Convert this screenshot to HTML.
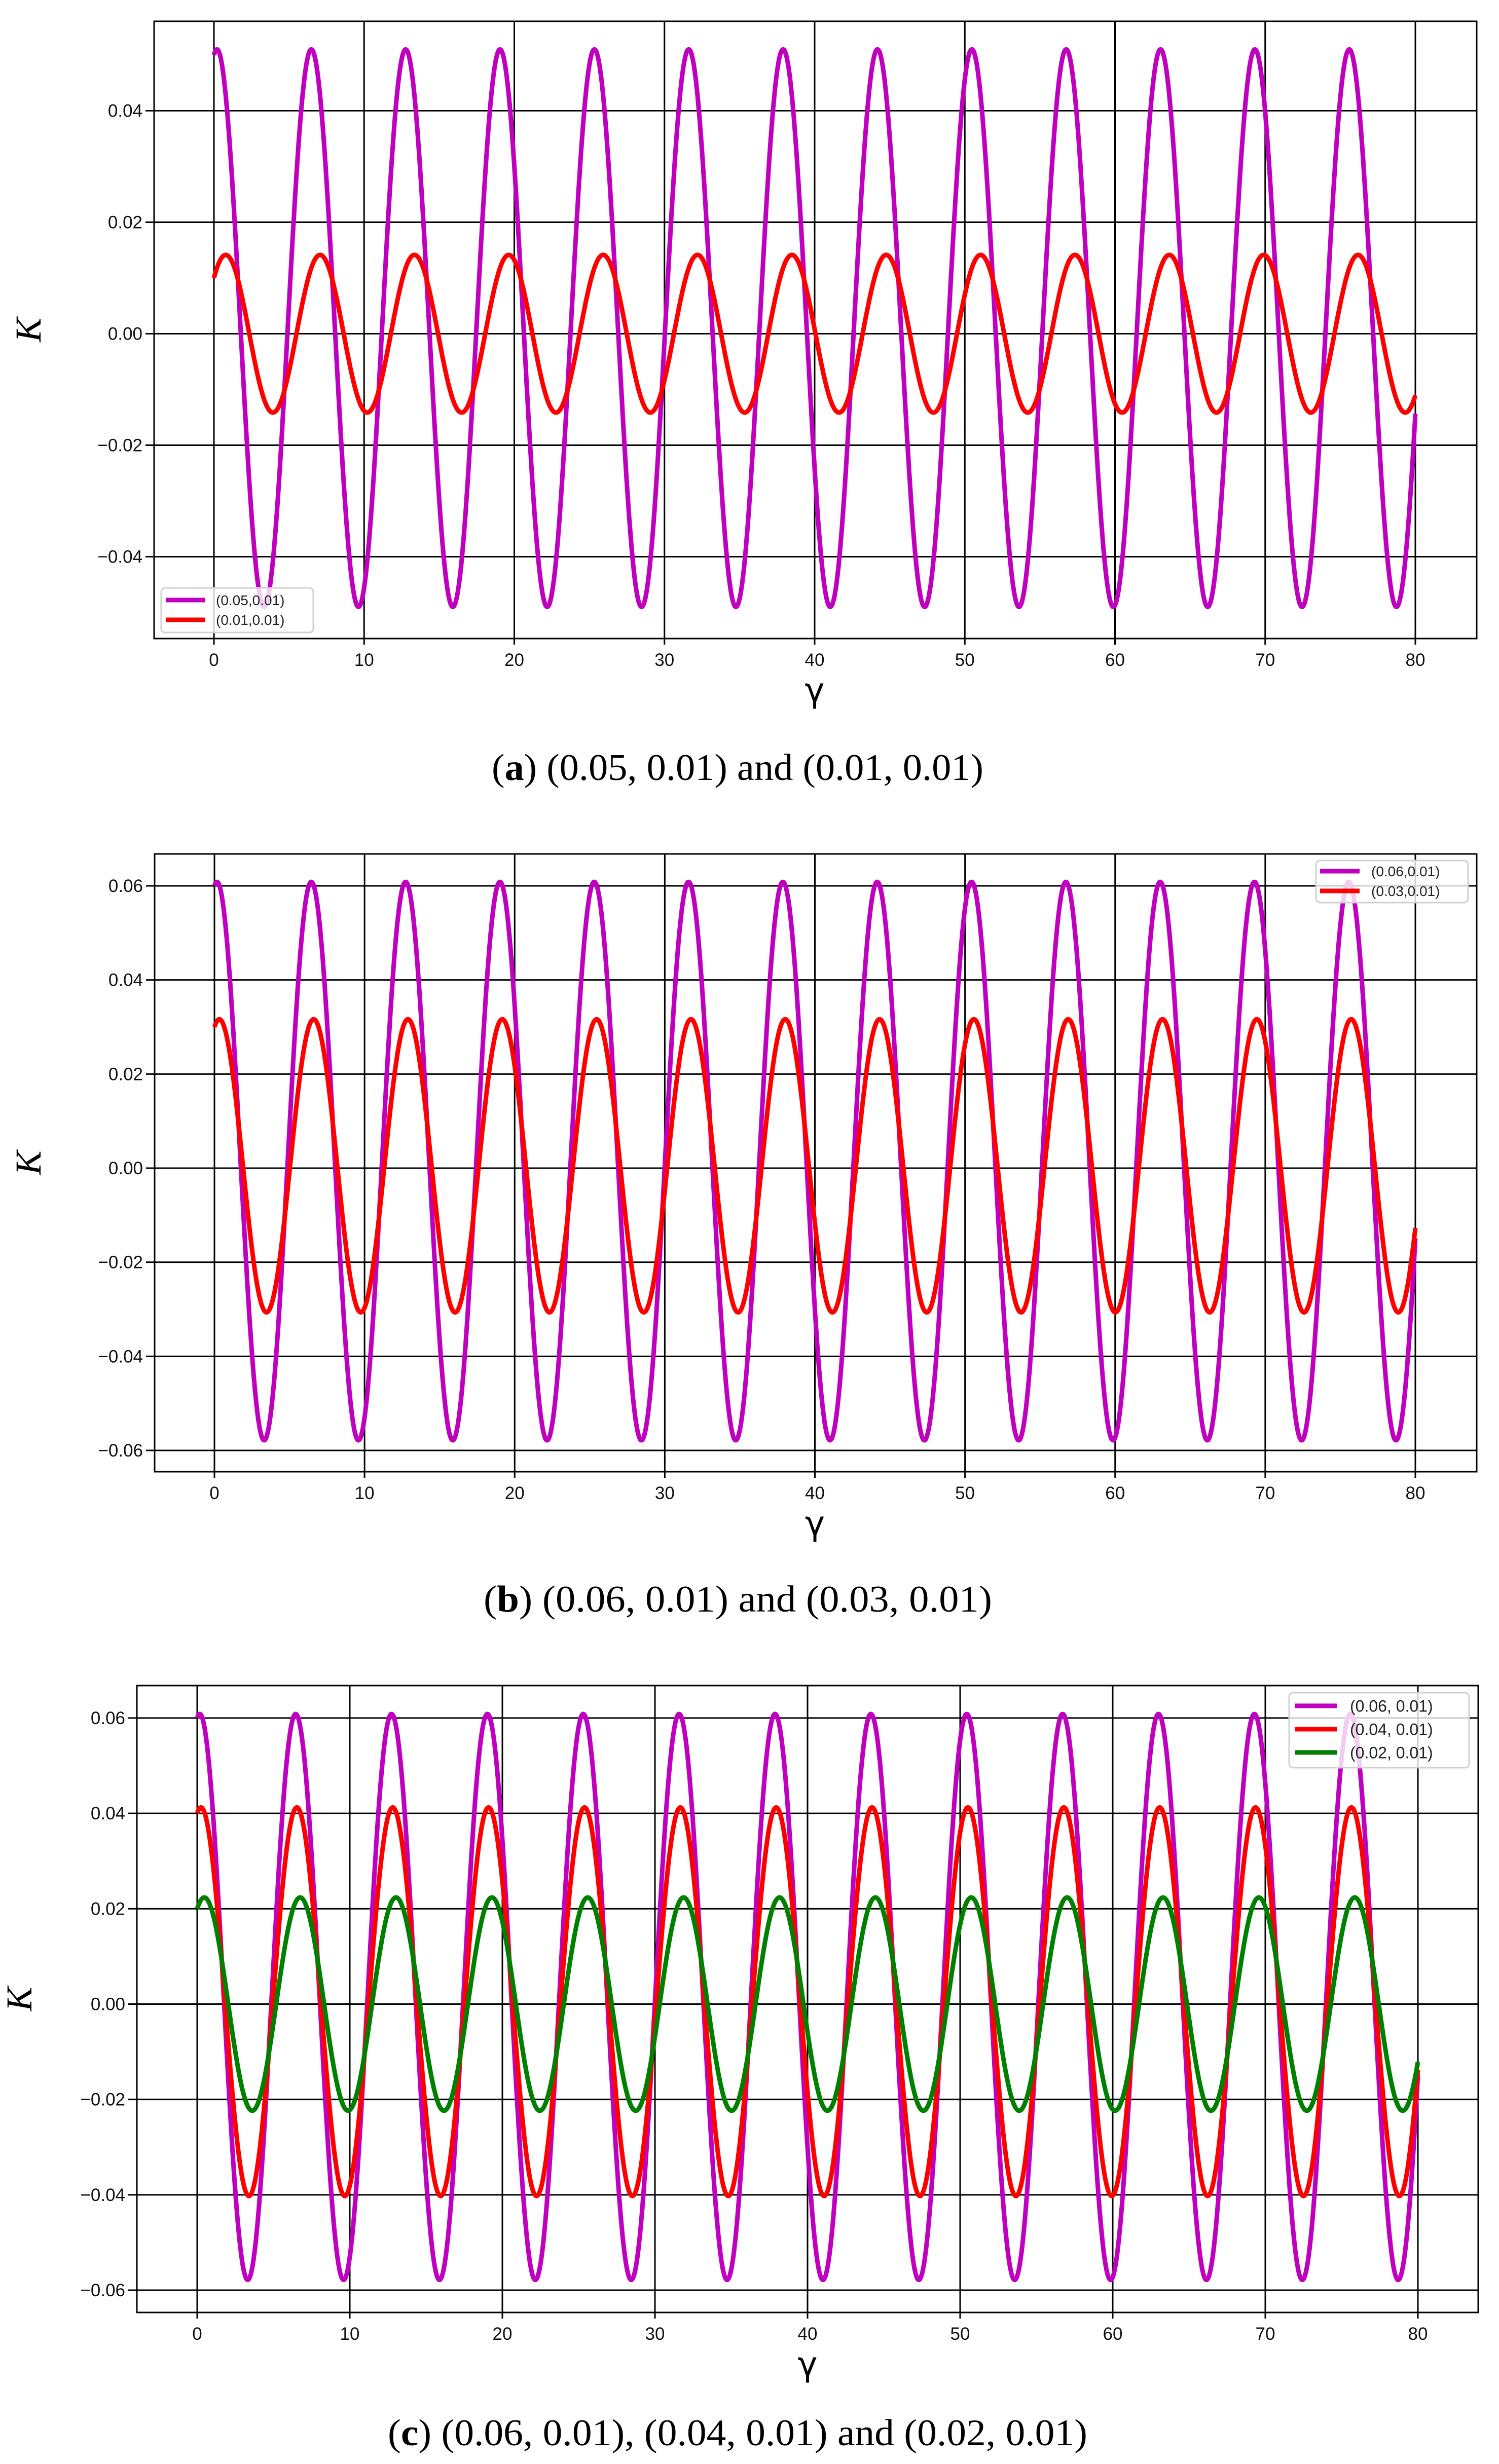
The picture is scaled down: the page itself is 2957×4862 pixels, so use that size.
<!DOCTYPE html>
<html><head><meta charset="utf-8">
<style>
html,body{margin:0;padding:0;background:#fff;}
svg{display:block;}
text{font-family:"Liberation Sans","DejaVu Sans",sans-serif;}
</style></head>
<body>
<svg id="fig" width="2957" height="4862" viewBox="0 0 2957 4862" xmlns="http://www.w3.org/2000/svg">
<rect width="2957" height="4862" fill="#fff"/>
</svg>
<script>
// ---- data ----
const xTicks = [0,10,20,30,40,50,60,70,80];
const yTicksA = [-0.04,-0.02,0.00,0.02,0.04];
const yTicksBC = [-0.06,-0.04,-0.02,0.00,0.02,0.04,0.06];
const gammaRange = [0,80];
// series parameters: [start value, sine coefficient, offset]
const seriesA1 = [0.05,0.01,0.001];
const seriesA2 = [0.01,0.01,0.0];
const seriesB1 = [0.06,0.01,0.0015];
const seriesB2 = [0.03,0.01,0.0005];
const seriesC1 = [0.06,0.01,0.0015];
const seriesC2 = [0.04,0.01,0.0005];
const seriesC3 = [0.02,0.01,0.0];
const labelsA = ["(0.05,0.01)","(0.01,0.01)"];
const labelsB = ["(0.06,0.01)","(0.03,0.01)"];
const labelsC = ["(0.06, 0.01)","(0.04, 0.01)","(0.02, 0.01)"];

const NS="http://www.w3.org/2000/svg";
const svg=document.getElementById('fig');
function mk(tag,attrs,parent){const e=document.createElementNS(NS,tag);for(const k in attrs)e.setAttribute(k,attrs[k]);(parent||svg).appendChild(e);return e;}
function fmt(v){const s=Math.abs(v).toFixed(2);return (v<-1e-9?"\u2212":"")+s;}

function panel(cfg){
  const g=mk('g',{});
  
  
  const X=v=>cfg.x0+(v-0)*(cfg.x80-cfg.x0)/80;
  const Y=v=>cfg.y0-v*cfg.ky;
  xTicks.forEach(t=>{
    const l=mk('line',{x1:X(t),x2:X(t),y1:cfg.top,y2:cfg.bottom+12,stroke:'#000','stroke-width':3},g);
    
    
    const tx=mk('text',{x:X(t),y:cfg.bottom+54,'font-size':35,'text-anchor':'middle',fill:'#111'},g);
    tx.textContent=t;
    
    
  });
  cfg.yTicks.forEach(t=>{
    const l=mk('line',{x1:cfg.left-17,x2:cfg.right,y1:Y(t),y2:Y(t),stroke:'#000','stroke-width':3},g);
    
    
    const tx=mk('text',{x:cfg.left-23,y:Y(t)+12,'font-size':35,'text-anchor':'end',fill:'#111'},g);
    tx.textContent=fmt(t);
    
    
  });
  cfg.series.forEach((p,i)=>{
    let d='';
    for(let k=0;k<=3200;k++){const gm=gammaRange[0]+(gammaRange[1]-gammaRange[0])*k/3200;const v=(p[0]-p[2])*Math.cos(gm)+p[1]*Math.sin(gm)+p[2];d+=(k?'L':'M')+X(gm).toFixed(1)+','+Y(v).toFixed(1);}
    const path=mk('path',{d:d,fill:'none',stroke:cfg.colors[i],'stroke-width':9,'stroke-linejoin':'round'},g);
    
    
  });
  const fr=mk('rect',{x:cfg.left,y:cfg.top,width:cfg.right-cfg.left,height:cfg.bottom-cfg.top,fill:'none',stroke:'#000','stroke-width':3},g);
  
  
  const L=cfg.legend;
  const lg=mk('g',{},g);
  
  
  mk('rect',{x:L.x,y:L.y,width:L.w,height:L.h,rx:8,fill:'rgba(255,255,255,0.8)',stroke:'#d0d0d0','stroke-width':3},lg);
  cfg.labels.forEach((s,i)=>{
    const ry=L.y+L.r0+i*L.dr;
    const ln=mk('line',{x1:L.lx1,x2:L.lx2,y1:ry,y2:ry,stroke:cfg.colors[i],'stroke-width':9},lg);
    
    
    const t=mk('text',{x:L.tx,y:ry+L.fs*0.36,'font-size':L.fs,fill:'#222'},lg);
    t.textContent=s;
    
    
  });
  const cy=(cfg.top+cfg.bottom)/2;
  const yl=mk('text',{x:0,y:0,'font-size':72,'font-style':'italic','text-anchor':'middle',transform:`translate(${cfg.ylx},${cy}) rotate(-90)`,style:'font-family:"Liberation Serif",serif'},g);
  yl.textContent='K';
  
  
  const xl=mk('text',{x:(X(0)+X(80))/2,y:cfg.bottom+125,'font-size':66,'text-anchor':'middle',style:'font-family:"DejaVu Sans",sans-serif'},g);
  xl.textContent='\u03b3';
  
  
  const cap=mk('text',{x:cfg.cap.x,y:cfg.cap.y,'font-size':74,textLength:cfg.cap.w,lengthAdjust:'spacingAndGlyphs',style:'font-family:"Liberation Serif",serif'},g);
  
  
  const b=mk('tspan',{'font-weight':'bold'},cap);
  cap.insertBefore(document.createTextNode('('),b);
  b.textContent=cfg.cap.tag;
  cap.appendChild(document.createTextNode(')'+cfg.cap.rest));
}

panel({name:'panel-a',left:304,right:2913,top:42,bottom:1260,x0:422,x80:2792,y0:658.5,ky:11000,yTicks:yTicksA,
  series:[seriesA1,seriesA2],colors:['#bf00bf','#ff0000'],labels:labelsA,
  legend:{x:318,y:1160,w:300,h:88,r0:24,dr:39,lx1:327,lx2:405,tx:426,fs:28},ylx:80,
  cap:{x:970,y:1539,w:970,tag:'a',rest:' (0.05, 0.01) and (0.01, 0.01)'}});
panel({name:'panel-b',left:305,right:2913,top:1685,bottom:2904,x0:423,x80:2792,y0:2305,ky:9283,yTicks:yTicksBC,
  series:[seriesB1,seriesB2],colors:['#bf00bf','#ff0000'],labels:labelsB,
  legend:{x:2596,y:1698,w:300,h:83,r0:21,dr:39,lx1:2604,lx2:2682,tx:2705,fs:28},ylx:80,
  cap:{x:954,y:3180,w:1003,tag:'b',rest:'  (0.06, 0.01) and (0.03, 0.01)'}});
panel({name:'panel-c',left:270,right:2916,top:3326,bottom:4563,x0:389,x80:2797,y0:3954.5,ky:9408,yTicks:yTicksBC,
  series:[seriesC1,seriesC2,seriesC3],colors:['#bf00bf','#ff0000','#008000'],labels:labelsC,
  legend:{x:2543,y:3340,w:355,h:148,r0:26,dr:46,lx1:2554,lx2:2637,tx:2663,fs:32},ylx:62,
  cap:{x:765,y:4825,w:1380,tag:'c',rest:'  (0.06, 0.01), (0.04, 0.01) and (0.02, 0.01)'}});
</script>
</body></html>
